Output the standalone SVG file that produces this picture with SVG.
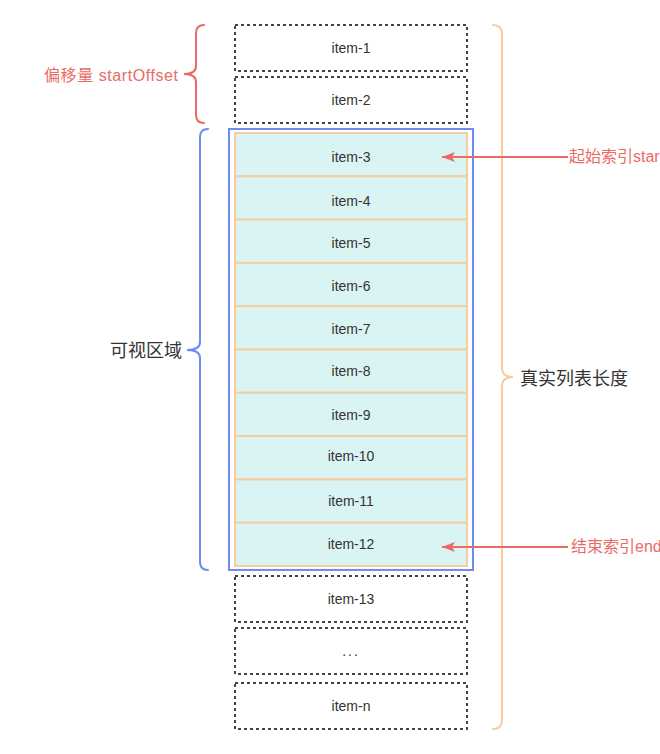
<svg xmlns="http://www.w3.org/2000/svg" width="660" height="754" viewBox="0 0 660 754">
<defs>
<style>
.dash{fill:none;stroke:#444;stroke-width:2;stroke-dasharray:3 3}
.cell{fill:#DAF4F3;stroke:#F5CDA0;stroke-width:2}
.it{font-family:"Liberation Sans","Noto Sans CJK SC",sans-serif;font-size:14px;fill:#333;text-anchor:middle}
.lbl{font-family:"Liberation Sans","Noto Sans CJK SC",sans-serif;fill:#333}
.red{fill:#EA6B66}
.brace{fill:none;stroke-width:2;stroke-linecap:round}
.arr{stroke:#EA6B66;stroke-width:2;fill:none}
</style>
<marker id="ah" markerWidth="14" markerHeight="12" refX="13" refY="6" orient="auto" markerUnits="userSpaceOnUse">
<path d="M0,1 L13,6 L0,11 L3,6 Z" fill="#EA6B66"/>
</marker>
</defs>
<rect width="660" height="754" fill="#fff"/>

<g id="item-1"><rect class="dash" x="235" y="25" width="232" height="46"/><text class="it" x="351" y="53">item-1</text></g>
<g id="item-2"><rect class="dash" x="235" y="77" width="232" height="46"/><text class="it" x="351" y="105">item-2</text></g>

<g id="visible-area"><rect x="229" y="129" width="244" height="441" fill="none" stroke="#6E8CF0" stroke-width="2"/></g>

<g id="item-3"><rect class="cell" x="235" y="133" width="232" height="43.3"/><text class="it" x="351" y="162">item-3</text></g>
<g id="item-4"><rect class="cell" x="235" y="176.3" width="232" height="43.3"/><text class="it" x="351" y="206">item-4</text></g>
<g id="item-5"><rect class="cell" x="235" y="219.6" width="232" height="43.3"/><text class="it" x="351" y="248">item-5</text></g>
<g id="item-6"><rect class="cell" x="235" y="262.9" width="232" height="43.3"/><text class="it" x="351" y="291">item-6</text></g>
<g id="item-7"><rect class="cell" x="235" y="306.2" width="232" height="43.3"/><text class="it" x="351" y="334">item-7</text></g>
<g id="item-8"><rect class="cell" x="235" y="349.5" width="232" height="43.3"/><text class="it" x="351" y="376">item-8</text></g>
<g id="item-9"><rect class="cell" x="235" y="392.8" width="232" height="43.3"/><text class="it" x="351" y="420">item-9</text></g>
<g id="item-10"><rect class="cell" x="235" y="436.1" width="232" height="43.3"/><text class="it" x="351" y="461">item-10</text></g>
<g id="item-11"><rect class="cell" x="235" y="479.4" width="232" height="43.3"/><text class="it" x="351" y="506">item-11</text></g>
<g id="item-12"><rect class="cell" x="235" y="522.7" width="232" height="43.3"/><text class="it" x="351" y="549">item-12</text></g>

<g id="item-13"><rect class="dash" x="235" y="576" width="232" height="46"/><text class="it" x="351" y="604">item-13</text></g>
<g id="item-dots"><rect class="dash" x="235" y="628" width="232" height="46"/><text class="it" x="351" y="656" letter-spacing="2">...</text></g>
<g id="item-n"><rect class="dash" x="235" y="683" width="232" height="46"/><text class="it" x="351" y="711">item-n</text></g>

<g id="offset-brace">
<path class="brace" stroke="#EA6B66" d="M204,25 Q196,25 196,33 L196,66 Q196,74 184,74 Q196,74 196,82 L196,115 Q196,123 204,123"/>
<text class="lbl red" x="44" y="81" font-size="16" textLength="134" lengthAdjust="spacing">偏移量 startOffset</text>
</g>
<g id="visible-brace">
<path class="brace" stroke="#6E8CF0" d="M208,129 Q200,129 200,137 L200,342 Q200,350 187,350 Q200,350 200,358 L200,562 Q200,570 208,570"/>
<text class="lbl" x="182" y="357" font-size="18" text-anchor="end">可视区域</text>
</g>
<g id="total-brace">
<path class="brace" stroke="#F8CC9C" d="M493,25 Q502,25 502,34 L502,368 Q502,377 513,377 Q502,377 502,386 L502,720 Q502,729 493,729"/>
<text class="lbl" x="520" y="385" font-size="18">真实列表长度</text>
</g>

<g id="connectors">
<line class="arr" x1="568" y1="157" x2="442" y2="157" marker-end="url(#ah)"/>
<line class="arr" x1="568" y1="547" x2="442" y2="547" marker-end="url(#ah)"/>
</g>
<g id="start-label"><text class="lbl red" x="569" y="162" font-size="16">起始索引startIndex</text></g>
<g id="end-label"><text class="lbl red" x="571" y="552" font-size="16">结束索引endIndex</text></g>
</svg>
